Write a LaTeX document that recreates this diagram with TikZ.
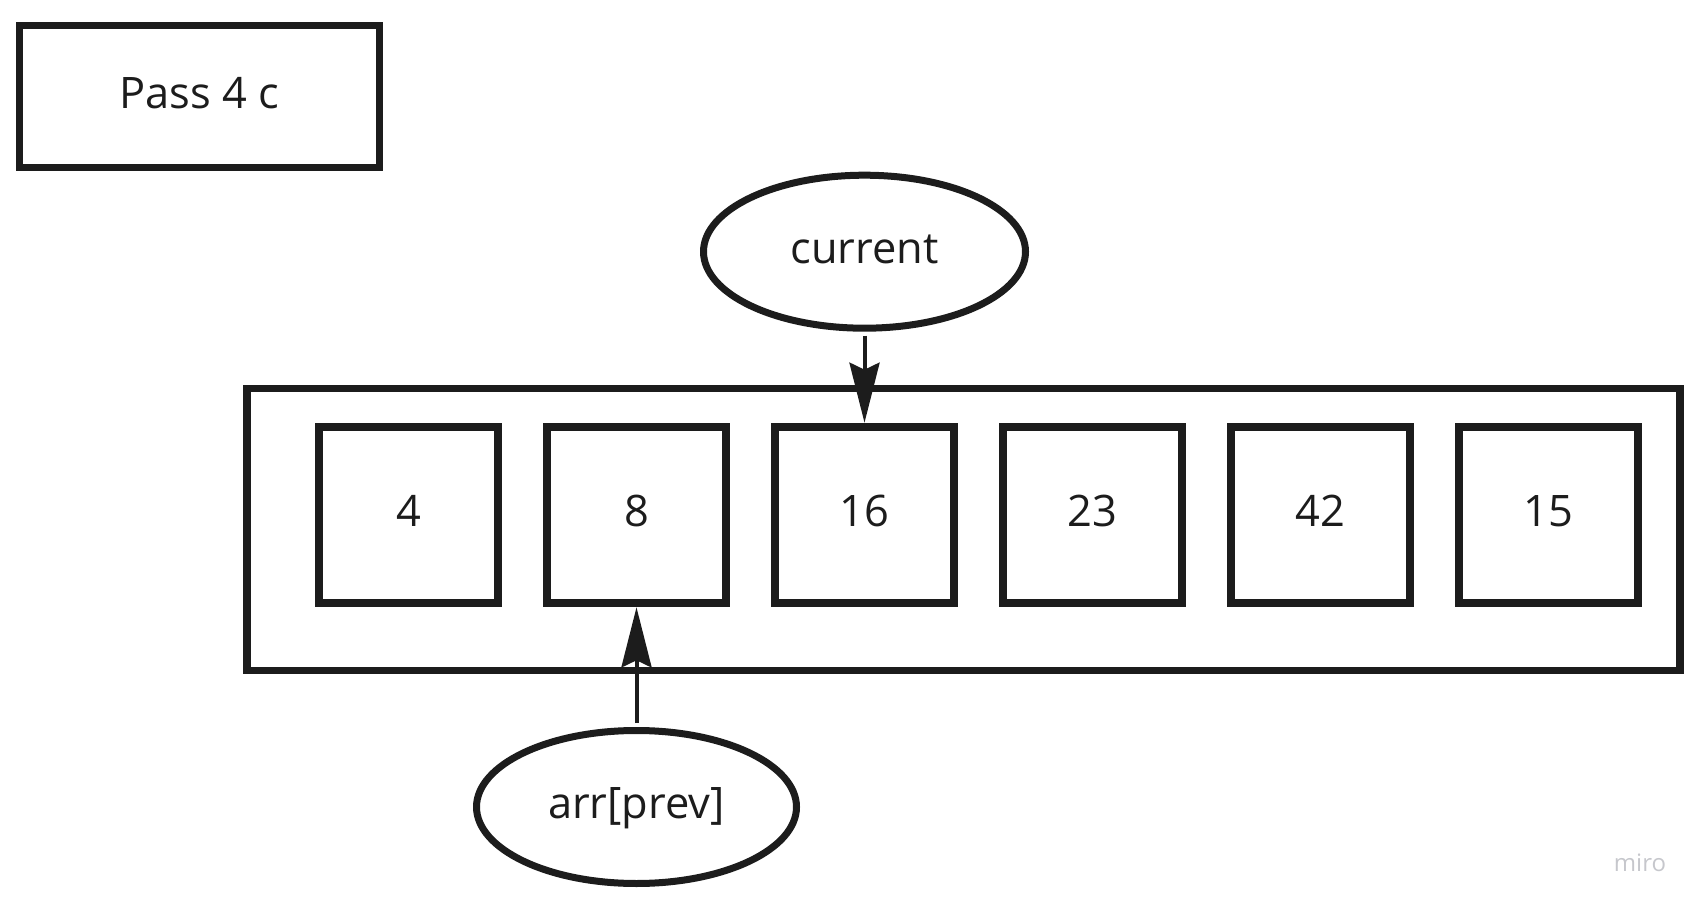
\documentclass[tikz,border=0pt]{standalone}
\usepackage{fontspec}
\setmainfont{Open Sans}
\usetikzlibrary{arrows.meta}
\usetikzlibrary{shapes.geometric}
\definecolor{inkgray}{RGB}{28,28,28}
\definecolor{mirogray}{RGB}{198,199,204}

\begin{document}
\begin{tikzpicture}[x=0.5pt,y=-0.5pt,
		every node/.style={font=\fontsize{21.7pt}{26pt}\selectfont, text=inkgray, text height=15pt, text depth=3.4pt},
		cell/.style={draw=inkgray, line width=4pt, minimum width=89.8pt, minimum height=88.3pt, inner sep=0pt},
		pointer/.style={draw=inkgray, ellipse, line width=3.5pt, minimum width=161pt, minimum height=76.5pt, inner sep=0pt},
		link/.style={draw=inkgray, line width=2pt, -{Stealth[length=30pt,width=15pt,inset=3.5pt]}, shorten <=2pt}]
		\useasboundingbox (0,0) rectangle (1708,914);
		\node[draw=inkgray, line width=3.65pt, minimum width=179.8pt, minimum height=70.8pt] (pass) at (199.5,96.5) {Pass 4 c};
		\node[cell] (c1) at (408.5,515) {4};
		\node[cell] (c2) at (636.5,515) {8};
		\node[cell] (c3) at (864.5,515) {16};
		\node[cell] (c4) at (1092.5,515) {23};
		\node[cell] (c5) at (1320.5,515) {42};
		\node[cell] (c6) at (1548.5,515) {15};
		\node[draw=inkgray, line width=3.75pt, minimum width=716.5pt, minimum height=141pt] (array) at (963.5,529.5) {};
		\node[pointer] (current) at (864.5,251.7) {current};
		\node[pointer, minimum width=160pt] (prev) at (636.5,807) {arr[prev]};
		\draw[link] (current) -- (c3);
		\draw[link] (prev) -- (c2);
		\node[text=mirogray, font=\fontsize{12pt}{14pt}\selectfont] (miro) at (1640,860) {miro};
	\end{tikzpicture}
\end{document}
